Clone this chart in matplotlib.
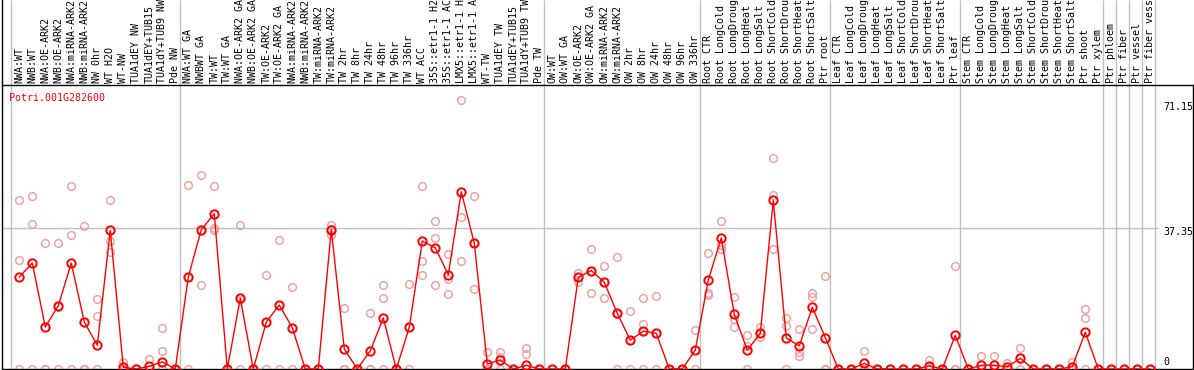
import matplotlib.pyplot as plt
from matplotlib.transforms import blended_transform_factory

# sample names, in column order
labels = ["NWA:WT", "NWB:WT", "NWA:OE-ARK2", "NWB:OE-ARK2", "NWA:miRNA-ARK2",
          "NWB:miRNA-ARK2", "NW 0hr", "WT H2O", "WT-NW", "TUA1dEY NW",
          "TUA1dEY+TUB15", "TUA1dY+TUB9 NW", "Pde NW",
          "NWA:WT GA", "NWBWT GA", "TW:WT", "TW:WT GA", "NWA:OE-ARK2 GA",
          "NWB:OE-ARK2 GA", "TW:OE-ARK2", "TW:OE-ARK2 GA", "NWA:miRNA-ARK2",
          "NWB:miRNA-ARK2", "TW:miRNA-ARK2", "TW:miRNA-ARK2", "TW 2hr", "TW 8hr",
          "TW 24hr", "TW 48hr", "TW 96hr", "TW 336hr", "WT ACC",
          "35S::etr1-1 H2O", "35S::etr1-1 ACC", "LMX5::etr1-1 H2O",
          "LMX5::etr1-1 ACC", "WT-TW", "TUA1dEY TW", "TUA1dEY+TUB15",
          "TUA1dY+TUB9 TW", "Pde TW",
          "OW:WT", "OW:WT GA", "OW:OE-ARK2", "OW:OE-ARK2 GA", "OW:miRNA-ARK2",
          "OW:miRNA-ARK2", "OW 2hr", "OW 8hr", "OW 24hr", "OW 48hr", "OW 96hr",
          "OW 336hr",
          "Root CTR", "Root LongCold", "Root LongDrought", "Root LongHeat",
          "Root LongSalt", "Root ShortCold", "Root ShortDrought", "Root ShortHeat",
          "Root ShortSalt", "Ptr root",
          "Leaf CTR", "Leaf LongCold", "Leaf LongDrought", "Leaf LongHeat",
          "Leaf LongSalt", "Leaf ShortCold", "Leaf ShortDrought", "Leaf ShortHeat",
          "Leaf ShortSalt", "Ptr leaf",
          "Stem CTR", "Stem LongCold", "Stem LongDrought", "Stem LongHeat",
          "Stem LongSalt", "Stem ShortCold", "Stem ShortDrought", "Stem ShortHeat",
          "Stem ShortSalt", "Ptr shoot", "Ptr xylem",
          "Ptr phloem", "Ptr fiber", "Ptr vessel", "Ptr fiber vessel"]

# how many samples in each experiment block (grey separators)
group_sizes = [13, 28, 12, 10, 10, 11, 1, 1, 1, 1]

# mean expression per sample
means = [24.3, 28.0, 11.1, 16.7, 28.0, 12.4, 6.3, 36.6, 0.45, 0.0,
         0.7, 1.9, 0.0, 24.3, 36.8, 41.0, 0.0, 18.7, 0.0, 12.4,
         16.9, 10.9, 0.0, 0.0, 36.8, 5.3, 0.0, 4.8, 13.5, 0.0,
         11.0, 33.8, 32.0, 24.9, 46.8, 33.2, 1.3, 2.4, 0.0, 1.0,
         0.0, 0.0, 0.0, 24.2, 26.0, 22.9, 14.7, 7.6, 10.0, 9.4,
         0.0, 0.0, 5.0, 23.5, 34.6, 14.4, 5.0, 9.4, 44.5, 8.2,
         6.1, 16.3, 8.3, 0.0, 0.0, 1.5, 0.0, 0.0, 0.0, 0.0,
         0.8, 0.0, 8.9, 0.0, 1.0, 1.0, 0.6, 2.8, 0.0, 0.0,
         0.0, 0.6, 9.7, 0.0, 0.0, 0.0, 0.0, 0.0]

# individual replicates per sample
reps = [[44.7, 28.8, 0], [45.7, 38.3, 0], [33.3, 0, 0], [33.3, 16.7, 0],
        [48.4, 35.4, 0], [37.8, 0, 0], [18.5, 14.0, 0], [44.5, 33.9, 30.9],
        [1.8, 0, 0], [0, 0, 0], [2.6, 0, 0], [10.8, 4.8, 0], [0, 0, 0],
        [48.6, 24.3, 0], [51.3, 36.8, 22.2], [48.4, 37.3, 36.8], [0, 0, 0],
        [37.9, 18.2, 0], [0, 0, 0], [24.9, 12.4, 0], [34.1, 16.9, 0],
        [21.6, 10.9, 0], [0, 0, 0], [0, 0, 0], [38.0, 36.9, 35.5],
        [16.1, 0, 0], [0, 0, 0], [14.8, 0, 0], [22.2, 18.7, 0], [0, 0, 0],
        [22.4, 11.0, 0], [48.4, 28.5, 24.9], [39.2, 34.6, 22.3],
        [30.5, 23.8, 19.9], [71.15, 40.2, 28.5], [45.6, 33.2, 21.0],
        [4.5, 0, 0], [4.5, 3.3, 0], [0, 0, 0], [5.6, 3.9, 0], [0, 0, 0],
        [0, 0, 0], [0, 0, 0], [25.4, 24.2, 22.9], [31.8, 26.0, 20.2],
        [27.1, 22.9, 18.7], [29.5, 14.6, 0], [15.3, 7.6, 0], [18.7, 11.8, 0],
        [19.2, 9.4, 0], [0, 0, 0], [0, 0, 0], [10.3, 5.0, 0],
        [30.6, 20.0, 19.5], [39.0, 32.7, 31.8], [18.9, 13.2, 11.0],
        [8.9, 6.1, 0], [11.1, 9.4, 8.5], [55.6, 45.9, 31.8], [13.6, 11.3, 0],
        [10.6, 4.4, 3.5], [20.1, 18.9, 10.6], [24.5, 0, 0], [0, 0, 0],
        [0, 0, 0], [4.7, 0, 0], [0, 0, 0], [0, 0, 0], [0, 0, 0], [0, 0, 0],
        [2.4, 0, 0], [0, 0, 0], [27.1, 0, 0], [0, 0, 0], [3.4, 0, 0],
        [3.4, 0, 0], [1.7, 0, 0], [5.5, 2.8, 0], [0, 0, 0], [0, 0, 0],
        [0, 0, 0], [1.8, 0, 0], [15.8, 13.6, 0], [0, 0, 0], [0, 0, 0],
        [0, 0, 0], [0, 0, 0], [0, 0, 0]]

gene = "Potri.001G282600"
y_marks = [71.15, 37.35, 0]

mono = "DejaVu Sans Mono"
W, H = 1194, 370
fig = plt.figure(figsize=(W / 100, H / 100), dpi=100)
# plot box: x 2..1193 px, y 85..369 px (from top)
ax = fig.add_axes([2 / W, 1 / H, 1191 / W, 284 / H])
ax.set_xlim(-1.33, -1.33 + 1191 / 13)
ax.set_ylim(0, 75.0)
ax.set_xticks([])
ax.set_yticks([])
for s in ax.spines.values():
    s.set_linewidth(1.0)
    s.set_color("black")

x = list(range(len(labels)))
trans = blended_transform_factory(ax.transData, ax.transAxes)

# left border keeps going up through the label strip
ax.plot([0, 0], [1, 1 + 90 / 284], transform=ax.transAxes, color="black",
        lw=1.0, clip_on=False, zorder=5)

# grey separators between blocks, running up through the label strip
edge = 0
bounds = [0]
for g in group_sizes:
    edge += g
    bounds.append(edge)
ax.vlines([b - 0.65 for b in bounds], 0, 1 + 85 / 284, transform=trans,
          color="#c0c0c0", lw=1.0, clip_on=False, zorder=1)
ax.hlines(y_marks[1], -1.33, 87.6, color="#c0c0c0", lw=1.0, zorder=1)

# replicates
for i, r in enumerate(reps):
    ax.plot([i] * len(r), r, "o", ms=5.5, mfc="none", mec="#f09a9a", mew=1.0,
            zorder=2)

# means
ax.plot(x, means, "-", color="red", lw=1.0, zorder=3)
ax.plot(x, means, "o", ms=6, mfc="none", mec="red", mew=1.4, zorder=4)

# sample names, vertical
for i, name in enumerate(labels):
    ax.text(i, 1 + 2 / 284, name, transform=trans, rotation=90, ha="center",
            va="bottom", fontsize=7.2, family=mono, clip_on=False)

ax.text(0.006, 0.972, gene, transform=ax.transAxes, ha="left", va="top",
        fontsize=7.2, family=mono, color="red")

# value labels on the right
ax.annotate("%g" % y_marks[0], (88.0, y_marks[0]), xytext=(0, -5),
            textcoords="offset points", ha="left", va="center", fontsize=7.2,
            family=mono, annotation_clip=False)
ax.annotate("%g" % y_marks[1], (88.0, y_marks[1]), xytext=(0, -3),
            textcoords="offset points", ha="left", va="center", fontsize=7.2,
            family=mono, annotation_clip=False)
ax.annotate("%g" % y_marks[2], (88.0, y_marks[2]), xytext=(0, 5),
            textcoords="offset points", ha="left", va="center", fontsize=7.2,
            family=mono, annotation_clip=False)

fig.savefig("out.png", dpi=100)
